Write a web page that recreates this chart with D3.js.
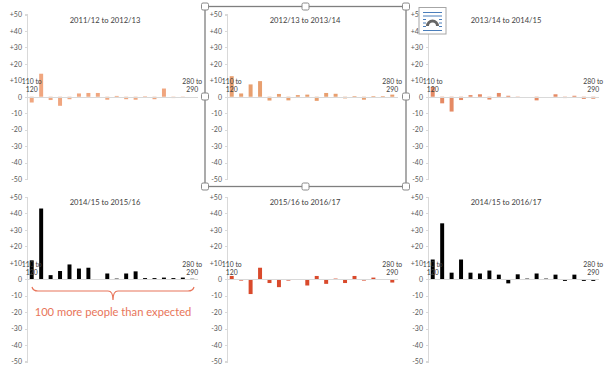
<!DOCTYPE html>
<html lang="en">
<head>
  <meta charset="UTF-8">
  <title>Year on year change</title>
  <script src="https://d3js.org/d3.v7.min.js"></script>
  <style>
  html, body { margin: 0; background: #fff; }
  svg { display: block; }
  text { font-family: Lato, "Open Sans", sans-serif; fill: #595959; }
  .tick text { font-size: 7px; }
  .axis path, .axis line { stroke: #d9d9d9; shape-rendering: crispEdges; }
  .title { font-size: 7.6px; fill: #404040; text-anchor: middle; }
  .edge { font-size: 6.8px; fill: #404040; text-anchor: middle; }
  .handle { fill: #fff; stroke: #8a8a8a; stroke-width: 1; }
  </style>
</head>
<body>
  <div class="container"></div>
  <script>
  var categories = ["110 to 120","120 to 130","130 to 140","140 to 150","150 to 160","160 to 170",
                    "170 to 180","180 to 190","190 to 200","200 to 210","210 to 220","220 to 230",
                    "230 to 240","240 to 250","250 to 260","260 to 270","270 to 280","280 to 290"];
  var yTicks = [50,40,30,20,10,0,-10,-20,-30,-40,-50];

  var change1112 = [-3.5,14,-2,-5.5,-1.5,2,2.3,2.3,-1.8,0.5,-1.5,-1.8,0.3,-1.5,5,-0.8,-0.5,0];
  var change1213 = [12.5,2,7.5,9.5,-2.3,1.7,-2.2,1,1.3,-2.5,2.3,1.8,-1,0.4,-1.8,0.4,0.4,1.3];
  var change1314 = [6,-4,-9,-2,1,1.5,-1.7,2.3,0.6,-0.4,0,-2.2,0,1.5,-0.8,0.6,-1.3,-1.2];
  var change1415 = [11.5,43,2.5,5,9,6.5,7,0,3.5,0.4,3.5,4.8,0.7,0.7,1,0.7,1,0.3];
  var change1516 = [2,-0.8,-9,7,-2.3,-4.8,-0.8,-0.4,-3.8,2,-2.8,0.4,-2.3,2,-0.8,1,0,-2];
  var change1416 = [12,34,4,12,4,3.5,5.3,2.8,-2.5,3,0.4,3.5,0.4,2.8,-1,2.8,-1,-1];

  var w = 613, h = 378;
  var panels = [
    {title: "2011/12 to 2012/13", values: change1112, color: "#f0a67f", x: 27,  y: 14.5},
    {title: "2012/13 to 2013/14", values: change1213, color: "#e89f6f", x: 227, y: 14.5},
    {title: "2013/14 to 2014/15", values: change1314, color: "#e58a64", x: 428, y: 14.5},
    {title: "2014/15 to 2015/16", values: change1415, color: "#000000", x: 27,  y: 197},
    {title: "2015/16 to 2016/17", values: change1516, color: "#d94a2c", x: 227, y: 197},
    {title: "2014/15 to 2016/17", values: change1416, color: "#000000", x: 428, y: 197}
  ];

  var svg = d3.select(".container").append("svg").attr("width", w).attr("height", h);

  var xScale = d3.scaleBand().domain(categories).range([0, 170]).paddingInner(0.58).paddingOuter(0.29);
  var yScale = d3.scaleLinear().domain([-50, 50]).range([164.5, 0]);
  var edgeCats = [categories[0], categories[categories.length - 1]];

  panels.forEach(function(p) {
    var g = svg.append("g").attr("transform", "translate(" + p.x + "," + p.y + ")");

    var yAxis = d3.axisLeft(yScale).tickValues(yTicks).tickSize(2).tickPadding(3)
      .tickFormat(function(d) { return d > 0 ? "+" + d : d; });
    g.append("g").attr("class", "axis").call(yAxis)
      .select(".domain").attr("stroke-width", 1.5);

    g.selectAll(".bar").data(p.values).enter().append("rect")
      .attr("class", "bar")
      .attr("x", function(d, i) { return xScale(categories[i]); })
      .attr("width", xScale.bandwidth())
      .attr("y", function(d) { return yScale(Math.max(d, 0)); })
      .attr("height", function(d) { return Math.abs(yScale(d) - yScale(0)); })
      .attr("fill", p.color);

    var xAxis = d3.axisBottom(xScale).tickValues([]).tickSize(0);
    g.append("g").attr("class", "axis").attr("transform", "translate(0," + yScale(0) + ")").call(xAxis);

    g.append("text").attr("class", "title").attr("x", 78).attr("y", 8).text(p.title);

    // first and last category names sit above the zero line, on two rows
    edgeCats.forEach(function(c) {
      var cx = xScale(c) + xScale.bandwidth() / 2;
      var words = c.split(" ");
      g.append("text").attr("class", "edge").attr("x", cx).attr("y", yScale(0) - 12.5)
        .text(words[0] + " " + words[1]);
      g.append("text").attr("class", "edge").attr("x", cx).attr("y", yScale(0) - 4.5)
        .text(words[2]);
    });
  });

  // brace + note under the 2014/15 to 2015/16 panel
  var accent = "#e8755a";
  svg.append("path")
    .attr("d", "M32,287 Q33,291 38,291 L108,291 Q113,291 113,300 Q113,291 118,291 L188,291 Q193,291 194,287")
    .attr("fill", "none").attr("stroke", accent).attr("stroke-width", 1.2);
  svg.append("text").attr("x", 113).attr("y", 316).attr("text-anchor", "middle")
    .style("font-size", "11.2px").style("fill", accent)
    .text("100 more people than expected");

  // selection frame on the middle top chart
  var box = {x: 205, y: 6.5, w: 201, h: 180};
  svg.append("rect").attr("x", box.x).attr("y", box.y).attr("width", box.w).attr("height", box.h)
    .attr("fill", "none").attr("stroke", "#7f7f7f").attr("stroke-width", 1.3);
  [0, 0.5, 1].forEach(function(fx) {
    [0, 0.5, 1].forEach(function(fy) {
      if (fx === 0.5 && fy === 0.5) return;
      svg.append("rect").attr("class", "handle")
        .attr("x", box.x + fx * box.w - 3.5).attr("y", box.y + fy * box.h - 3.5)
        .attr("width", 7).attr("height", 7).attr("rx", 1.5);
    });
  });

  // layout options icon
  var icon = svg.append("g").attr("transform", "translate(419,7.5)");
  icon.append("rect").attr("x", 0).attr("y", 0).attr("width", 27).attr("height", 26.5)
    .attr("fill", "#fff").attr("stroke", "#a6a6a6");
  [[5, 1], [8.5, 1], [12, 0], [15.5, 0], [19, 0], [23, 1]].forEach(function(row) {
    if (row[1]) {
      icon.append("line").attr("x1", 4).attr("x2", 23).attr("y1", row[0]).attr("y2", row[0]).attr("stroke", "#4a7ebb");
    } else {
      icon.append("line").attr("x1", 4).attr("x2", 7).attr("y1", row[0]).attr("y2", row[0]).attr("stroke", "#4a7ebb");
      icon.append("line").attr("x1", 20).attr("x2", 23).attr("y1", row[0]).attr("y2", row[0]).attr("stroke", "#4a7ebb");
    }
  });
  icon.append("path").attr("d", "M8.5,18.5 A5,5 0 0 1 18.5,18.5").attr("fill", "none").attr("stroke", "#666").attr("stroke-width", 3);
  </script>
</body>
</html>
